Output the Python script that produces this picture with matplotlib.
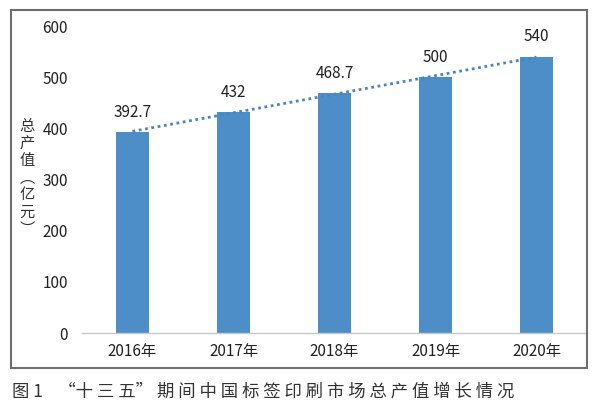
import matplotlib
matplotlib.use("Agg")
import matplotlib.pyplot as plt
import numpy as np
from matplotlib.patches import Rectangle

plt.rcParams['font.family'] = ['Noto Sans CJK SC', 'DejaVu Sans']

years = ['2016年', '2017年', '2018年', '2019年', '2020年']
values = [392.7, 432, 468.7, 500, 540]
value_labels = ['392.7', '432', '468.7', '500', '540']
yticks = [0, 100, 200, 300, 400, 500, 600]

W, H = 600, 409
fig = plt.figure(figsize=(W / 100, H / 100), dpi=100)

# axes in pixel coordinates: x 82..587, y 26(top,600)..333(0)
ax = fig.add_axes([82 / W, (H - 333) / H, (587 - 82) / W, (333 - 26) / H])
x = np.arange(len(years))
ax.bar(x, values, width=0.32, color='#4d8ec9', zorder=2)

# linear trend line (Excel style)
m, b = np.polyfit(x, values, 1)
ax.plot(x, m * x + b, color='#4a86bd', linestyle=(0, (1, 1.3)), linewidth=2, zorder=3)

for xi, v, lab in zip(x, values, value_labels):
    ax.text(xi, v + 22, lab, ha='center', va='bottom', fontsize=11, color='#222222')

ax.set_xlim(-0.5, len(years) - 0.5)
ax.set_ylim(0, 600)
ax.set_yticks(yticks)
ax.set_xticks(x)
ax.set_xticklabels(years)
ax.tick_params(axis='both', length=0, labelsize=11, colors='#222222')
ax.tick_params(axis='y', pad=10)
ax.tick_params(axis='x', pad=7)
for s in ['top', 'right', 'left']:
    ax.spines[s].set_visible(False)
ax.spines['bottom'].set_color('#c8c8c8')
ax.spines['bottom'].set_linewidth(1)

# vertical y label
ylab = '\n'.join(['总', '产', '值', '︵', '亿', '元', '︶'])
fig.text(27 / W, 1 - 178 / H, ylab, ha='center', va='center', fontsize=11,
         color='#333333', linespacing=1.0)

# outer frame
fig.patches.append(Rectangle((11 / W, 1 - 368 / H), (587 - 11) / W, (368 - 10) / H,
                             transform=fig.transFigure, fill=False,
                             edgecolor='#6e6e6e', linewidth=1.5))

caption = '图 1    “十 三 五” 期 间 中 国 标 签 印 刷 市 场 总 产 值 增 长 情 况'
fig.text(12 / W, 1 - 392 / H, caption, ha='left', va='center', fontsize=12.5,
         color='#333333', fontweight='light')

fig.savefig('out.png', dpi=100)
